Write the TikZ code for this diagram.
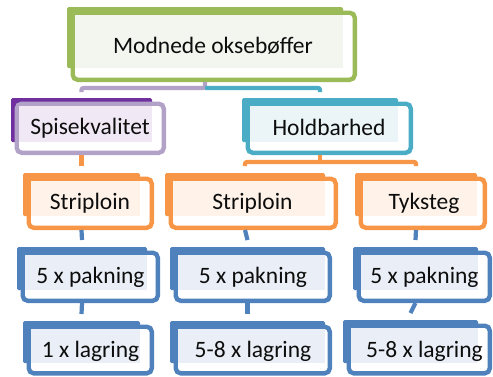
\documentclass[tikz,border=0pt]{standalone}
\usepackage{fontspec}
\setmainfont{Carlito}
\definecolor{grn}{HTML}{9BBB59}\definecolor{grndark}{HTML}{9BBB59}\definecolor{grntint}{HTML}{F3F6EE}
\definecolor{lav}{HTML}{B3A2C7}\definecolor{lavdark}{HTML}{7030A0}\definecolor{lavtint}{HTML}{F0E9F5}
\definecolor{teal}{HTML}{4BACC6}\definecolor{tealdark}{HTML}{4BACC6}\definecolor{tealtint}{HTML}{EBF5F8}
\definecolor{org}{HTML}{F79646}\definecolor{orgdark}{HTML}{F79646}\definecolor{orgtint}{HTML}{FEF2E9}
\definecolor{blu}{HTML}{4F81BD}\definecolor{bludark}{HTML}{4F81BD}\definecolor{blutint}{HTML}{EAEFF7}
\definecolor{txt}{HTML}{0D0D0D}
\tikzset{
  frame/.style={fill=white, line width=4.4pt, rounded corners=5pt, inner sep=0pt, outer sep=2.2pt},
  backbox/.style={inner sep=0pt, outer sep=0pt, rounded corners=1.5pt},
  lbl/.style={inner sep=0pt, text=txt, font=\fontsize{23.5}{28}\selectfont, anchor=base},
  conn/.style={line width=4.2pt, rounded corners=2pt}
}
% #1 name, #2 colour, #3 bx1, #4 by1, #5 bx2, #6 by2, #7 fx2, #8 fy2
\newcommand\hbx[8]{%
  \pgfmathsetmacro\fxa{#3+3.5}%
  \pgfmathsetmacro\fya{#4+3.5}%
  \pgfmathsetmacro\cx{(\fxa+#7)/2}%
  \pgfmathsetmacro\cy{(\fya+#8)/2}%
  \pgfmathsetmacro\ww{#7-\fxa-4.4}%
  \pgfmathsetmacro\hh{#8-\fya-4.4}%
  \pgfmathsetmacro\bcx{(#3+#5)/2}%
  \pgfmathsetmacro\bcy{(#4+#6)/2}%
  \pgfmathsetmacro\bw{#5-#3}%
  \pgfmathsetmacro\bh{#6-#4}%
  \node[backbox, fill=#2dark, minimum width=\bw pt, minimum height=\bh pt] (#1-b) at (\bcx,\bcy) {};
  \node[frame, draw=#2, minimum width=\ww pt, minimum height=\hh pt] (#1) at (\cx,\cy) {};
  \fill[#2tint] (\fxa+4.4,\fya+4.4) rectangle (#5,#6);
}
\begin{document}
\begin{tikzpicture}[x=1pt,y=-1pt]
\useasboundingbox (0,0) rectangle (493,376);
% boxes
\hbx{top}{grn}{67}{7}{343}{68}{357}{82}
\node[lbl] (top-t) at (213,53) {Modnede oksebøffer};
\hbx{spise}{lav}{11}{98}{152}{142}{166}{155}
\node[lbl] (spise-t) at (90,134) {Spisekvalitet};
\hbx{hold}{teal}{242}{98}{398}{142}{413}{155}
\node[lbl] (hold-t) at (329,135) {Holdbarhed};
\hbx{oL}{org}{23}{173}{140}{216}{154}{230}
\node[lbl] (oL-t) at (90,209) {Striploin};
\hbx{oM}{org}{165}{173}{325}{216}{338}{230}
\node[lbl] (oM-t) at (252.5,209) {Striploin};
\hbx{oR}{org}{355}{173}{477}{216}{487}{230}
\node[lbl] (oR-t) at (424,209) {Tyksteg};
\hbx{bL}{blu}{17}{247}{147}{290}{160}{303}
\node[lbl] (bL-t) at (90.5,283) {5 x pakning};
\hbx{bM}{blu}{170}{247}{325}{290}{332}{303}
\node[lbl] (bM-t) at (253,283) {5 x pakning};
\hbx{bR}{blu}{353}{247}{478}{290}{492}{303}
\node[lbl] (bR-t) at (424.5,283) {5 x pakning};
\hbx{cL}{blu}{23}{321}{140}{363}{154}{375.5}
\node[lbl] (cL-t) at (90.5,357) {1 x lagring};
\hbx{cM}{blu}{170}{321}{325}{363}{332}{375.5}
\node[lbl] (cM-t) at (253,357) {5-8 x lagring};
\hbx{cR}{blu}{343}{320}{478}{363}{492}{375.5}
\node[lbl] (cR-t) at (424.5,357) {5-8 x lagring};
% connectors
\coordinate (h1) at ([yshift=10pt]spise-b.north);
\draw[conn, lav] (top.south -| top-b.center) -- (h1 -| top-b.center) -- (h1 -| spise-b.center) -- ([yshift=6pt]spise-b.north);
\draw[conn, teal] (h1 -| top-b.center) -- (h1 -| hold-b.center) -- ([yshift=6pt]hold-b.north);
\draw[conn, org] (spise.south -| spise-b.center) -- ([yshift=7pt]oL-b.north);
\coordinate (h2) at ([yshift=11pt]oM-b.north);
\draw[conn, org] (hold.south -| hold-b.center) -- (h2 -| hold-b.center);
\draw[conn, org] ([yshift=7pt]oM-b.north) -- (h2 -| oM-b.center) -- (h2 -| oR-b.center) -- ([yshift=7pt]oR-b.north);
\draw[conn, blu] (oL.south -| oL-b.center) -- ([yshift=7pt]bL-b.north);
\draw[conn, blu] (oM.south -| oM-b.center) -- ([yshift=7pt]bM-b.north);
\draw[conn, blu] (oR.south -| oR-b.center) -- ([yshift=7pt]bR-b.north);
\draw[conn, blu] (bL.south -| bL-b.center) -- ([yshift=7pt]cL-b.north);
\draw[conn, blu] (bM.south -| bM-b.center) -- ([yshift=7pt]cM-b.north);
\draw[conn, blu] (bR.south -| bR-b.center) -- ([yshift=7pt]cR-b.north);
\end{tikzpicture}
\end{document}
